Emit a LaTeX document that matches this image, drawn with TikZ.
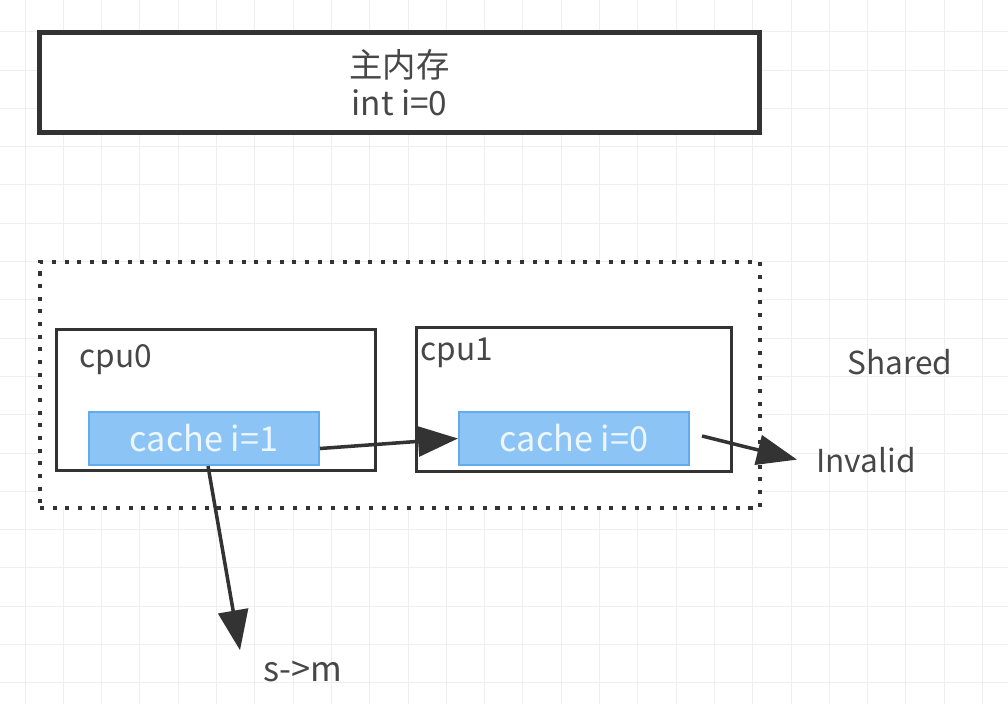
\documentclass[tikz,border=0pt]{standalone}
\usepackage{fontspec}
\setmainfont{Noto Sans CJK SC}
\usetikzlibrary{arrows.meta,positioning}
\definecolor{ink}{HTML}{333333}
\definecolor{txt}{HTML}{474747}
\definecolor{cachefill}{HTML}{8CC4F6}
\definecolor{cacheedge}{HTML}{62ACEE}
\definecolor{cachetxt}{HTML}{EEF7FF}
\definecolor{gridc}{HTML}{EFEFEF}

\begin{document}
\begin{tikzpicture}[x=0.02cm,y=-0.02cm,
  box/.style={draw=ink,line width=2.1pt,fill=white,inner sep=0pt},
  cache/.style={draw=cacheedge,line width=1.2pt,fill=cachefill,text=cachetxt,
    minimum width=4.6cm,minimum height=1.06cm,inner sep=0pt,font=\fontsize{19.5}{22}\selectfont},
  lbl/.style={text=txt,inner sep=0pt,font=\fontsize{18}{21}\selectfont},
  arr/.style={draw=ink,line width=2pt,-{Triangle[length=0.8cm,width=0.6cm]}}]
\fill[white] (0,0) rectangle (1008,704);
\useasboundingbox (0,0) rectangle (1008,704);
\foreach \i in {0,...,25}
  \draw[gridc,line width=0.5pt] ({25+38.3*\i},0) -- ({25+38.3*\i},704);
\foreach \j in {0,...,18}
  \draw[gridc,line width=0.5pt] (0,{-6.6+38.3*\j}) -- (1008,{-6.6+38.3*\j});
\node[box,line width=2.7pt,minimum width=14.4cm,minimum height=2.0cm,align=center,
  text=txt,font=\fontsize{19}{21.5}\selectfont] (mem) at (399.5,82.5) {主内存\\int i=0};
\node[draw=ink,fill=white,line width=2.3pt,dash pattern=on 2.3pt off 4.9pt,
  minimum width=14.4cm,minimum height=4.92cm] (bus) at (400,385) {};
\node[box,minimum width=6.38cm,minimum height=2.82cm] (cpu0) at (216,400) {};
\node[box,minimum width=6.3cm,minimum height=2.88cm] (cpu1) at (574,399.5) {};
\node[lbl,anchor=base west] (l0) at (79,367) {cpu0};
\node[lbl,anchor=base west] (l1) at (420,360) {cpu1};
\node[cache] (c1) at (204,438.5) {cache i=1};
\node[cache] (c0) at (574,438.5) {cache i=0};
\node[lbl,anchor=base west] (shared) at (847,374) {Shared};
\node[lbl,anchor=base west] (inv) at (816,472) {Invalid};
\node[lbl,anchor=base west,font=\fontsize{19.5}{22}\selectfont] (sm) at (263,681) {s->m};
\draw[arr] ([yshift=-0.2cm]c1.east) -- (c0.west);
\draw[arr] ([xshift=0.24cm,yshift=0.05cm]c0.east) -- ([xshift=-0.38cm]inv.west);
\draw[arr] ([xshift=0.08cm]c1.south) -- ([xshift=-0.46cm,yshift=0.2cm]sm.north west);
\end{tikzpicture}
\end{document}
